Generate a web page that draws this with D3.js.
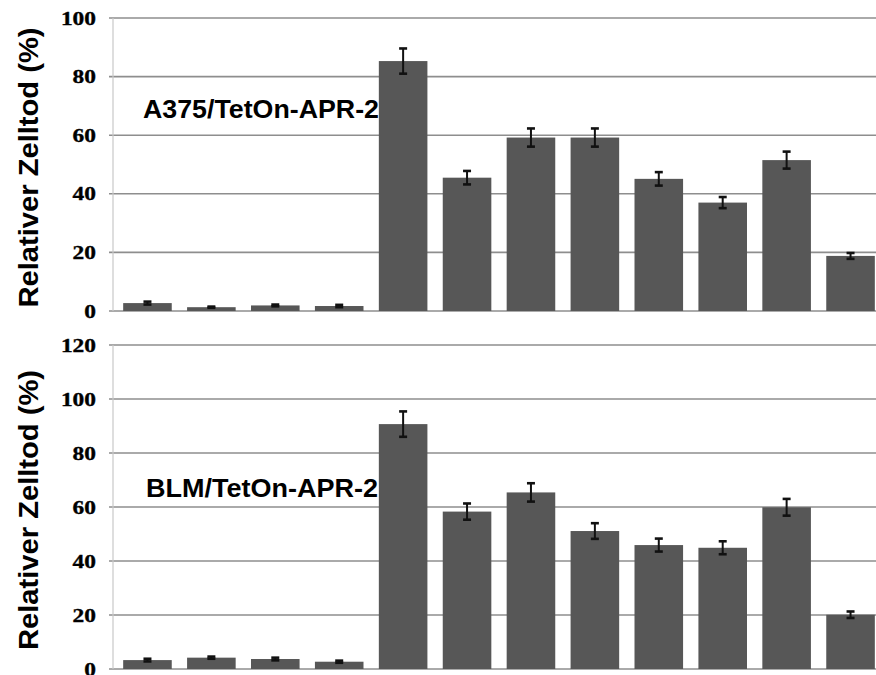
<!DOCTYPE html>
<html>
<head>
<meta charset="utf-8">
<style>
  body { margin: 0; background: #fff; }
  svg { display: block; }
  .tick text { font-family: "Liberation Serif", "Times New Roman", serif; font-weight: bold; fill: #000; stroke: #000; stroke-width: 0.35; }
  .title { font-family: "Liberation Sans", Arial, sans-serif; font-weight: bold; fill: #000; }
</style>
<script src="https://d3js.org/d3.v7.min.js"></script>
</head>
<body>
<script>
// conditions (no labels shown in the figure)
const groups = ["1", "2", "3", "4", "5", "6", "7", "8", "9", "10", "11", "12"];

// upper panel: A375/TetOn-APR-2
const a375Values = [2.7, 1.3, 1.9, 1.7, 85.3, 45.5, 59.2, 59.2, 45.1, 37.0, 51.5, 18.8];
const a375Errors = [0.5, 0.2, 0.3, 0.4, 4.3, 2.3, 3.1, 3.1, 2.3, 1.9, 2.9, 1.0];
const a375Ticks = [0, 20, 40, 60, 80, 100];

// lower panel: BLM/TetOn-APR-2
const blmValues = [3.3, 4.2, 3.7, 2.7, 90.7, 58.3, 65.4, 51.1, 45.9, 44.9, 59.9, 20.1];
const blmErrors = [0.5, 0.4, 0.5, 0.4, 4.7, 3.0, 3.4, 2.9, 2.4, 2.4, 3.1, 1.2];
const blmTicks = [0, 20, 40, 60, 80, 100, 120];

const yTitle = "Relativer Zelltod (%)";

const w = 876, h = 675;
const axisX = 113;

const svg = d3.select("body").append("svg")
  .attr("width", w)
  .attr("height", h);

const x = d3.scaleBand()
  .domain(groups)
  .range([115.5, 882.5])
  .paddingInner(0.24)
  .paddingOuter(0.12);

function panel(values, errors, ticks, label, top, bottom, labelPos) {
  const y = d3.scaleLinear()
    .domain([0, d3.max(ticks)])
    .range([bottom, top]);

  const g = svg.append("g");

  // gridlines
  g.selectAll("line.grid")
    .data(ticks)
    .enter().append("line")
    .attr("class", "grid")
    .attr("x1", axisX - 4)
    .attr("x2", w)
    .attr("y1", d => y(d))
    .attr("y2", d => y(d))
    .attr("stroke", "#8e8e8e")
    .attr("stroke-width", 1.6);

  // left axis line
  g.append("line")
    .attr("x1", axisX).attr("x2", axisX)
    .attr("y1", y(d3.max(ticks))).attr("y2", y(0))
    .attr("stroke", "#c8c8c8")
    .attr("stroke-width", 1.2);

  const yAxis = d3.axisLeft(y).tickValues(ticks).tickSize(0).tickPadding(17);
  const ax = g.append("g")
    .attr("transform", "translate(" + axisX + ",0)")
    .call(yAxis);
  ax.select(".domain").remove();
  ax.selectAll(".tick text")
    .attr("font-size", 19)
    .attr("textLength", d => String(d).length * 11.7)
    .attr("lengthAdjust", "spacingAndGlyphs");

  // bars
  g.selectAll("rect.bar")
    .data(values)
    .enter().append("rect")
    .attr("class", "bar")
    .attr("x", (d, i) => x(groups[i]))
    .attr("width", x.bandwidth())
    .attr("y", d => y(d))
    .attr("height", d => y(0) - y(d))
    .attr("fill", "#575757");

  // error bars
  const cap = 4;
  const eb = g.selectAll("g.err")
    .data(values)
    .enter().append("g")
    .attr("class", "err")
    .attr("stroke", "#111");
  eb.append("line")
    .attr("stroke-width", 2)
    .attr("x1", (d, i) => x(groups[i]) + x.bandwidth() / 2)
    .attr("x2", (d, i) => x(groups[i]) + x.bandwidth() / 2)
    .attr("y1", (d, i) => y(d + errors[i]))
    .attr("y2", (d, i) => y(d - errors[i]));
  eb.append("line")
    .attr("stroke-width", 2.6)
    .attr("x1", (d, i) => x(groups[i]) + x.bandwidth() / 2 - cap)
    .attr("x2", (d, i) => x(groups[i]) + x.bandwidth() / 2 + cap)
    .attr("y1", (d, i) => y(d + errors[i]))
    .attr("y2", (d, i) => y(d + errors[i]));
  eb.append("line")
    .attr("stroke-width", 2.6)
    .attr("x1", (d, i) => x(groups[i]) + x.bandwidth() / 2 - cap)
    .attr("x2", (d, i) => x(groups[i]) + x.bandwidth() / 2 + cap)
    .attr("y1", (d, i) => y(d - errors[i]))
    .attr("y2", (d, i) => y(d - errors[i]));

  // panel label
  g.append("text")
    .attr("class", "title")
    .attr("x", labelPos[0])
    .attr("y", labelPos[1])
    .attr("font-size", 25)
    .attr("textLength", labelPos[2])
    .attr("lengthAdjust", "spacingAndGlyphs")
    .text(label);

  // y title
  g.append("text")
    .attr("class", "title")
    .attr("transform", "translate(38," + ((top + bottom) / 2 + 3) + ") rotate(-90)")
    .attr("text-anchor", "middle")
    .attr("font-size", 27)
    .attr("textLength", 280)
    .attr("lengthAdjust", "spacingAndGlyphs")
    .text(yTitle);
}

panel(a375Values, a375Errors, a375Ticks, "A375/TetOn-APR-2", 18, 311, [143, 118, 236]);
panel(blmValues, blmErrors, blmTicks, "BLM/TetOn-APR-2", 345, 669, [146, 497, 232]);
</script>
</body>
</html>
